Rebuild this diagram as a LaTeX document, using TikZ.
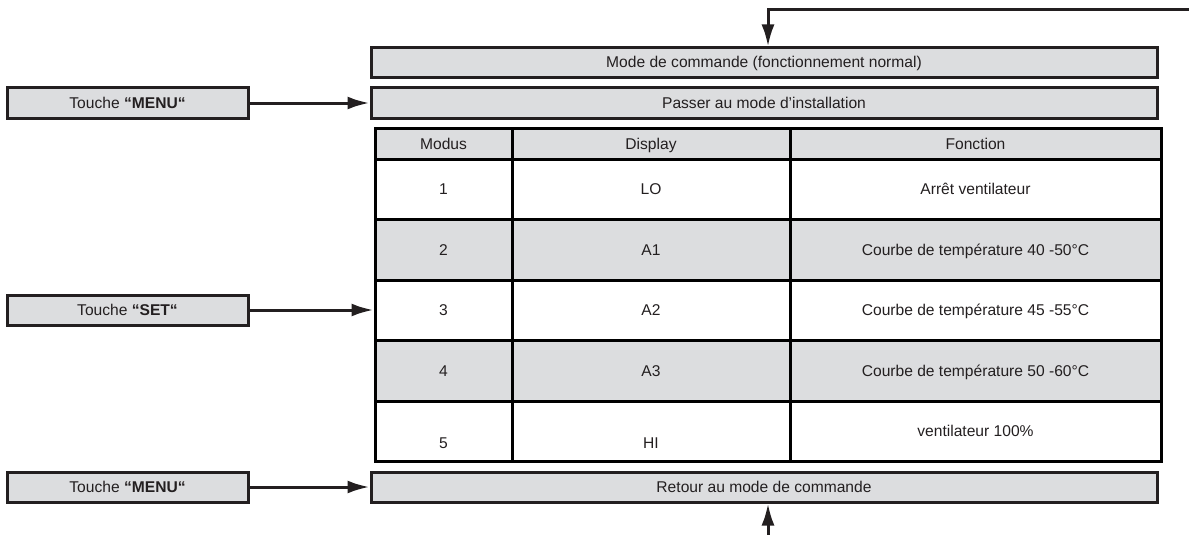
\documentclass[tikz,border=0pt]{standalone}
\usepackage{fontspec}
\setmainfont{Liberation Sans}
\usetikzlibrary{matrix,arrows.meta}
\definecolor{boxgray}{RGB}{220,221,223}
\definecolor{ink}{RGB}{35,31,32}

\begin{document}
\begin{tikzpicture}[x=1pt, y=-1pt, color=ink, line width=3pt, every node/.style={font=\fontsize{15.6}{18}\selectfont}, >={Latex[length=22pt, width=13pt]}, bar/.style={draw, fill=boxgray, minimum width=786pt, minimum height=30pt, inner sep=0pt}, key/.style={draw, fill=boxgray, minimum width=241pt, minimum height=30pt, inner sep=0pt}]
	\useasboundingbox (0,0) rectangle (1189,535);
	\node[bar] (mode) at (764,63) {Mode de commande (fonctionnement normal)};
	\node[bar] (install) at (764,103) {Passer au mode d’installation};
	\node[bar] (retour) at (764,487) {Retour au mode de commande};
	\node[key] (menuin) at (127.5,103) {Touche \textbf{“MENU“}};
	\node[key] (tset) at (127.5,310) {Touche \textbf{“SET“}};
	\node[key] (menuout) at (127.5,487) {Touche \textbf{“MENU“}};
	\matrix (tab) [matrix of nodes, nodes={draw, anchor=center, inner sep=1pt, text height=11pt, text depth=0pt}, column sep=-\pgflinewidth, row sep=-\pgflinewidth, column 1/.style={nodes={minimum width=137pt}}, column 2/.style={nodes={minimum width=278pt}}, column 3/.style={nodes={minimum width=371pt}}, row 1/.style={nodes={fill=boxgray, minimum height=31pt}}, row 2/.style={nodes={minimum height=60pt}}, row 3/.style={nodes={fill=boxgray, minimum height=61pt}}, row 4/.style={nodes={minimum height=60pt}}, row 5/.style={nodes={fill=boxgray, minimum height=61pt}}, row 6/.style={nodes={minimum height=60pt}}] at (768,294.5) {Modus & Display & Fonction \\ 1 & LO & Arrêt ventilateur \\ 2 & A1 & Courbe de température 40 -50°C \\ 3 & A2 & Courbe de température 45 -55°C \\ 4 & A3 & Courbe de température 50 -60°C \\ |[text height=35pt]| 5 & |[text height=35pt]| HI & ventilateur 100\% \\};
	\coordinate (loopin) at (1189,10);
	\coordinate (loopout) at (768,535);
	\draw[->] (menuin) -- (install);
	\draw[->] (tset) -- (tab-4-1);
	\draw[->] (menuout) -- (retour);
	\draw[->] (loopin) -| (mode.north -| loopout);
	\draw[->] (loopout) -- (loopout |- retour.south);
\end{tikzpicture}
\end{document}
